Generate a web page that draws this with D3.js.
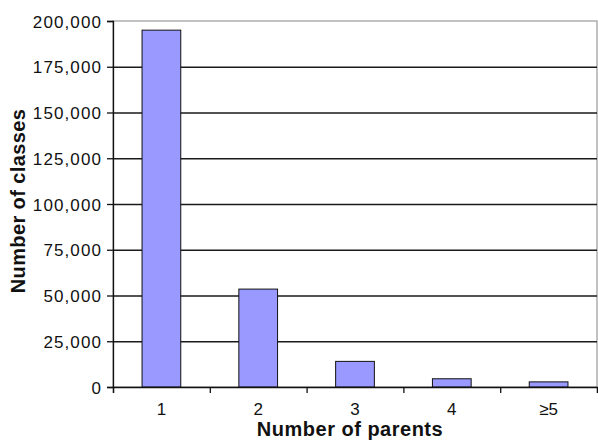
<!DOCTYPE html>
<html>
<head>
<meta charset="utf-8">
<script src="https://cdn.jsdelivr.net/npm/d3@7"></script>
<style>
  body { margin: 0; background: #fff; }
  svg { display: block; }
  .tick text { font-family: 'Liberation Sans', Arial, sans-serif; fill: #111; }
</style>
</head>
<body>
<script>
const categories = ['1', '2', '3', '4', '\u22655']
const classCounts = [195000, 53500, 14000, 4500, 2800]
const yTicks = [0, 25000, 50000, 75000, 100000, 125000, 150000, 175000, 200000]

const width = 598
const height = 443
const margin = { top: 21, right: 1, bottom: 56, left: 113 }
const innerW = width - margin.left - margin.right
const innerH = height - margin.top - margin.bottom

const svg = d3.select('body')
  .append('svg')
  .attr('width', width)
  .attr('height', height)

const g = svg.append('g')
  .attr('transform', `translate(${margin.left}, ${margin.top})`)

const xScale = d3.scaleBand()
  .domain(categories)
  .range([0, innerW])
  .paddingInner(0.6)
  .paddingOuter(0.3)

// boundaries between categories, for the tick marks
const xEdge = d3.scaleLinear()
  .domain([0, categories.length])
  .range([0, innerW])

const yScale = d3.scaleLinear()
  .domain([0, 200000])
  .range([innerH, 0])

// plot area border
g.append('rect')
  .attr('x', 0)
  .attr('y', 0)
  .attr('width', innerW)
  .attr('height', innerH)
  .attr('fill', 'none')
  .attr('stroke', '#9a9a9a')
  .attr('stroke-width', 1.2)

// gridlines
const grid = g.append('g')
  .call(d3.axisLeft(yScale).tickValues(yTicks.slice(1, -1)).tickSize(-innerW).tickFormat(''))
grid.select('.domain').remove()
grid.selectAll('.tick line').attr('stroke', '#1a1a1a').attr('stroke-width', 1.4)

// bars
g.selectAll('rect.bar')
  .data(classCounts)
  .enter()
  .append('rect')
  .attr('class', 'bar')
  .attr('x', function (d, i) { return xScale(categories[i]) })
  .attr('y', function (d) { return yScale(d) })
  .attr('width', xScale.bandwidth())
  .attr('height', function (d) { return innerH - yScale(d) })
  .attr('fill', '#9999ff')
  .attr('stroke', '#111')
  .attr('stroke-width', 1)

// y axis
const yAxis = g.append('g')
  .call(d3.axisLeft(yScale).tickValues(yTicks).tickSize(6).tickPadding(5).tickFormat(d3.format(',')))
yAxis.select('.domain').attr('stroke', '#111').attr('stroke-width', 1.3)
yAxis.selectAll('.tick line').attr('stroke', '#111').attr('stroke-width', 1.3)
yAxis.selectAll('.tick text')
  .attr('font-size', '17px')
  .attr('letter-spacing', '1.1px')
  .attr('dy', '0.36em')

// x axis tick marks
const xTickAxis = g.append('g')
  .attr('transform', `translate(0, ${innerH})`)
  .call(d3.axisBottom(xEdge).ticks(categories.length).tickSize(6).tickFormat(''))
xTickAxis.select('.domain').attr('stroke', '#111').attr('stroke-width', 1.3)
xTickAxis.selectAll('.tick line').attr('stroke', '#111').attr('stroke-width', 1.3)

// x axis labels
const xLabelAxis = g.append('g')
  .attr('transform', `translate(0, ${innerH})`)
  .call(d3.axisBottom(xScale).tickSize(0).tickPadding(16))
xLabelAxis.select('.domain').remove()
xLabelAxis.selectAll('.tick text')
  .attr('font-size', '17px')

// axis titles
svg.append('text')
  .attr('x', margin.left + innerW / 2 - 5)
  .attr('y', 436)
  .attr('text-anchor', 'middle')
  .attr('font-family', "'Liberation Sans', Arial, sans-serif")
  .attr('font-weight', 'bold')
  .attr('font-size', '20px')
  .attr('letter-spacing', '0.5px')
  .attr('fill', '#111')
  .text('Number of parents')

svg.append('text')
  .attr('transform', `translate(25, ${margin.top + innerH / 2 - 3}) rotate(-90)`)
  .attr('text-anchor', 'middle')
  .attr('font-family', "'Liberation Sans', Arial, sans-serif")
  .attr('font-weight', 'bold')
  .attr('font-size', '20px')
  .attr('letter-spacing', '0.4px')
  .attr('fill', '#111')
  .text('Number of classes')
</script>
</body>
</html>
